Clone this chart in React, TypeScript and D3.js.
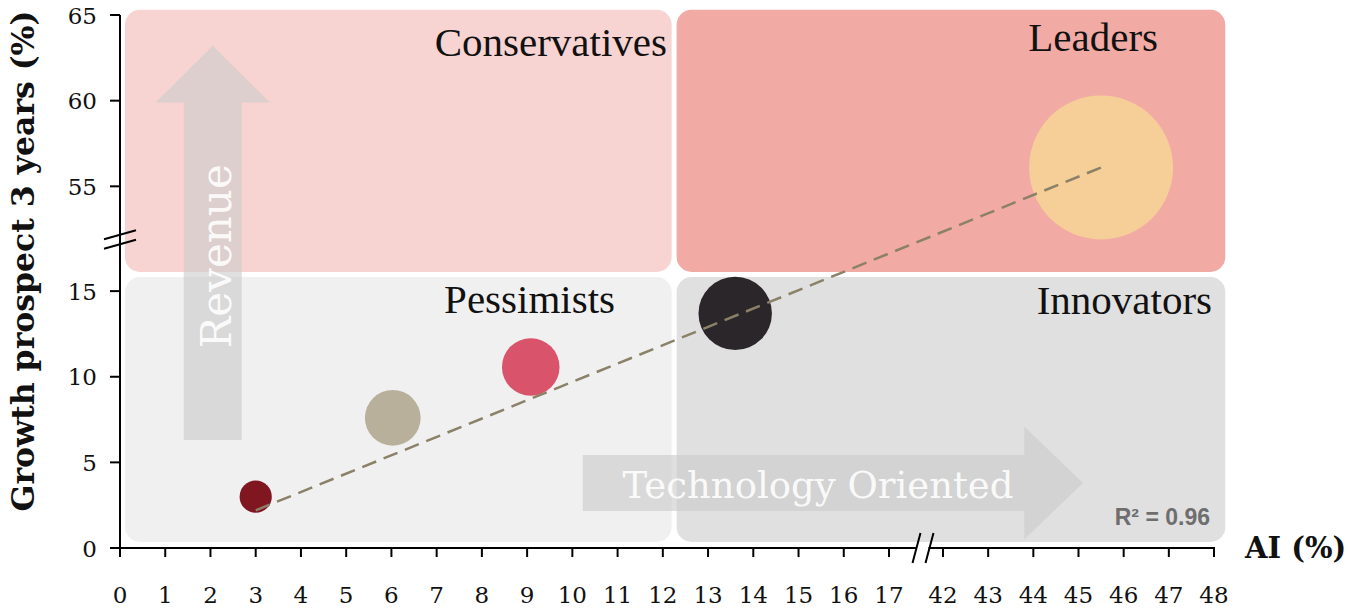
import React from 'react';
import * as d3 from 'd3';

// AI adoption (%) and 3-year growth prospect (%) per segment
const aiShare = [3.0, 6.03, 9.08, 13.6, 45.5];
const growthProspect = [3.0, 7.6, 10.57, 13.7, 56.1];
// relative segment weight, drives bubble area
const segmentWeight = [5, 15, 16, 26, 100];
const bubbleColors = ['#7f1620', '#b8b09a', '#d9536a', '#2b2629', '#f5ce98'];

// fitted trend (endpoints) and goodness of fit
const trendFrom = [3.0, 2.2];
const trendTo = [45.5, 56.1];
const rSquared = 0.96;

const xTickValues = [0, 1, 2, 3, 4, 5, 6, 7, 8, 9, 10, 11, 12, 13, 14, 15, 16, 17, 42, 43, 44, 45, 46, 47, 48];
const yTickValues = [0, 5, 10, 15, 55, 60, 65];
const quadrantNames = ['Conservatives', 'Leaders', 'Pessimists', 'Innovators'];

const W = 1348;
const H = 612;

// broken axes: 0–17 | 42–48 on x, 0–16 | 50–65 on y
const x = d3.scaleLinear().domain([0, 17, 42, 48]).range([120, 889, 943, 1214]);
const y = d3.scaleLinear().domain([0, 16, 50, 65]).range([548, 274, 272, 15]);
const r = d3.scaleSqrt().domain([0, d3.max(segmentWeight) as number]).range([0, 72]);

const serif = '"DejaVu Serif", Georgia, serif';
const times = '"Liberation Serif", "Times New Roman", serif';

export default function App() {
  // quadrant tiles
  const xl0 = x(0) + 5;
  const xSplit = x(12.25);
  const xr1 = x(48.25);
  const yt0 = y(65.3);
  const yt1 = y(50);
  const yb0 = y(16) + 3;
  const yb1 = y(0.35);
  const tiles = [
    { x0: xl0, x1: xSplit - 2.5, y0: yt0, y1: yt1, fill: '#f7d4d1' },
    { x0: xSplit + 2.5, x1: xr1, y0: yt0, y1: yt1, fill: '#f1aaa4' },
    { x0: xl0, x1: xSplit - 2.5, y0: yb0, y1: yb1, fill: '#f0f0f0' },
    { x0: xSplit + 2.5, x1: xr1, y0: yb0, y1: yb1, fill: '#e0e0e0' },
  ];

  // vertical "Revenue" arrow
  const rcx = x(2.05);
  const rBottom = y(6.3);
  const rHead = y(59.9);
  const rTip = y(63.2);
  const revenuePath = d3.path();
  revenuePath.moveTo(rcx - 29, rBottom);
  revenuePath.lineTo(rcx - 29, rHead);
  revenuePath.lineTo(rcx - 57, rHead);
  revenuePath.lineTo(rcx, rTip);
  revenuePath.lineTo(rcx + 57, rHead);
  revenuePath.lineTo(rcx + 29, rHead);
  revenuePath.lineTo(rcx + 29, rBottom);
  revenuePath.closePath();

  // horizontal "Technology Oriented" arrow
  const tcy = y(3.8);
  const tLeft = x(10.23);
  const tHead = x(43.8);
  const tTip = x(45.1);
  const techPath = d3.path();
  techPath.moveTo(tLeft, tcy - 28);
  techPath.lineTo(tHead, tcy - 28);
  techPath.lineTo(tHead, tcy - 56.5);
  techPath.lineTo(tTip, tcy);
  techPath.lineTo(tHead, tcy + 56.5);
  techPath.lineTo(tHead, tcy + 28);
  techPath.lineTo(tLeft, tcy + 28);
  techPath.closePath();

  const labelPos = [
    { x: 667, y: 56 },
    { x: 1158, y: 51 },
    { x: 615, y: 313 },
    { x: 1212, y: 314 },
  ];

  const trendLine = d3.line<number[]>().x((d) => x(d[0])).y((d) => y(d[1]));

  const breakX = 922.5;
  const breakY = y(52);

  return (
    <svg width={W} height={H} style={{ position: 'absolute', left: 0, top: 0, background: '#fff' }}>
      {tiles.map((t, i) => (
        <rect key={i} x={t.x0} y={t.y0} width={t.x1 - t.x0} height={t.y1 - t.y0} rx={15} ry={15} fill={t.fill} />
      ))}

      <path d={revenuePath.toString()} fill="#cbcbcb" fillOpacity={0.62} />
      <path d={techPath.toString()} fill="#cbcbcb" fillOpacity={0.62} />
      <text
        transform={`translate(${rcx + 18},${(rBottom + rHead) / 2 - 15}) rotate(-90)`}
        textAnchor="middle"
        fontFamily={serif}
        fontSize={42}
        fill="#ffffff"
        fillOpacity={0.9}
      >
        Revenue
      </text>
      <text x={818} y={tcy + 15} textAnchor="middle" fontFamily={serif} fontSize={37} fill="#ffffff" fillOpacity={0.9}>
        Technology Oriented
      </text>

      {quadrantNames.map((name, i) => (
        <text key={name} x={labelPos[i].x} y={labelPos[i].y} textAnchor="end" fontFamily={times} fontSize={41} fill="#111">
          {name}
        </text>
      ))}

      {aiShare.map((a, i) => (
        <circle key={i} cx={x(a)} cy={y(growthProspect[i])} r={r(segmentWeight[i])} fill={bubbleColors[i]} />
      ))}

      <path
        d={trendLine([trendFrom, trendTo]) as string}
        fill="none"
        stroke="#8b8168"
        strokeWidth={2.5}
        strokeDasharray="15,8"
      />

      <text
        x={1210}
        y={525}
        textAnchor="end"
        fontFamily='"Liberation Sans", Arial, sans-serif'
        fontWeight="bold"
        fontSize={23}
        fill="#6e6e6e"
      >
        {`R² = ${rSquared.toFixed(2)}`}
      </text>

      {/* y axis */}
      <line x1={x(0)} x2={x(0)} y1={y(65)} y2={y(0) + 1} stroke="#000" strokeWidth={2} />
      {yTickValues.map((v) => (
        <g key={v}>
          <line x1={x(0) - 10} x2={x(0)} y1={y(v)} y2={y(v)} stroke="#000" strokeWidth={2} />
          <text x={97} y={y(v) + 8.5} textAnchor="end" fontFamily={serif} fontSize={23} fill="#111">
            {v}
          </text>
        </g>
      ))}
      <line x1={x(0) - 16} y1={breakY + 1.5} x2={x(0) + 16} y2={breakY - 7.5} stroke="#000" strokeWidth={2} />
      <line x1={x(0) - 16} y1={breakY + 11} x2={x(0) + 16} y2={breakY + 2} stroke="#000" strokeWidth={2} />

      {/* x axis */}
      <line x1={x(0) - 1} x2={breakX - 6} y1={y(0)} y2={y(0)} stroke="#000" strokeWidth={2} />
      <line x1={breakX + 6} x2={x(48) + 1} y1={y(0)} y2={y(0)} stroke="#000" strokeWidth={2} />
      {xTickValues.map((v) => (
        <g key={v}>
          <line x1={x(v)} x2={x(v)} y1={y(0)} y2={y(0) + 9} stroke="#000" strokeWidth={2} />
          <text x={x(v)} y={603} textAnchor="middle" fontFamily={serif} fontSize={23} fill="#111">
            {v}
          </text>
        </g>
      ))}
      <line x1={breakX - 10} y1={y(0) + 15} x2={breakX - 2} y2={y(0) - 15} stroke="#000" strokeWidth={2} />
      <line x1={breakX + 3} y1={y(0) + 15} x2={breakX + 11} y2={y(0) - 15} stroke="#000" strokeWidth={2} />

      <text x={1245} y={558} fontFamily={serif} fontWeight="bold" fontSize={29} fill="#111">
        AI (%)
      </text>
      <text
        transform={`translate(34,261) rotate(-90)`}
        textAnchor="middle"
        fontFamily={serif}
        fontWeight="bold"
        fontSize={31.5}
        fill="#111"
      >
        Growth prospect 3 years (%)
      </text>
    </svg>
  );
}
